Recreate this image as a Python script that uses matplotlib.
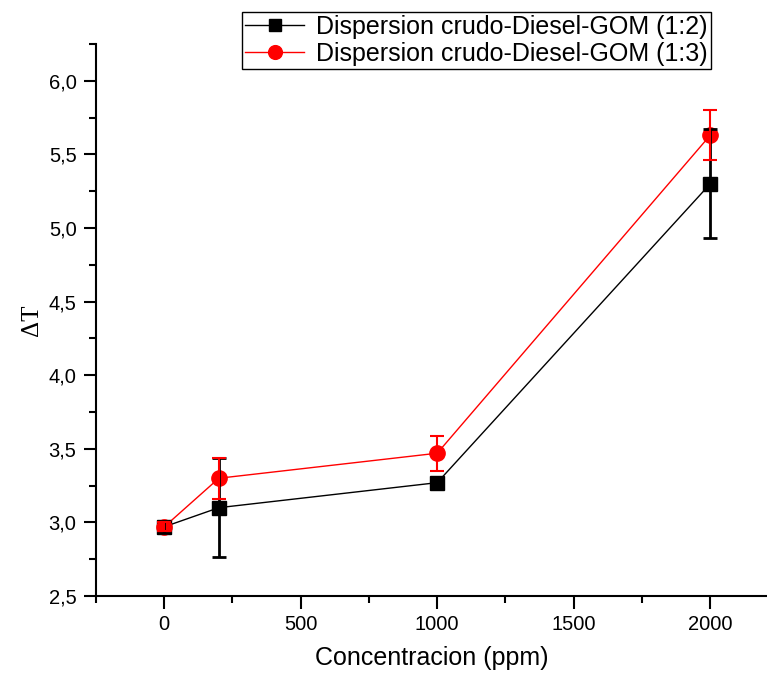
import matplotlib
matplotlib.use("Agg")
import matplotlib.pyplot as plt
from matplotlib.ticker import MultipleLocator, FuncFormatter

conc = [0, 200, 1000, 2000]
dt_12 = [2.97, 3.10, 3.27, 5.30]
err_12 = [0.04, 0.335, 0.03, 0.37]
dt_13 = [2.97, 3.30, 3.47, 5.63]
err_13 = [0.03, 0.14, 0.12, 0.17]
label_12 = "Dispersion crudo-Diesel-GOM (1:2)"
label_13 = "Dispersion crudo-Diesel-GOM (1:3)"

plt.rcParams['font.family'] = ['Liberation Sans', 'DejaVu Sans']

fig = plt.figure(figsize=(7.67, 6.77), dpi=100)
ax = fig.add_axes([96/767, 81/677, 1 - 96/767, 552/677])

ax.plot(conc, dt_12, color='black', lw=1, marker='s', ms=10, mec='black', mfc='black',
        zorder=2, label=label_12)
ax.plot(conc, dt_13, color='red', lw=1, marker='o', ms=11, mec='red', mfc='red',
        zorder=3, label=label_13)
ax.errorbar(conc, dt_12, yerr=err_12, fmt='none', ecolor='black', elinewidth=2,
            capsize=5, capthick=2, zorder=4)
ax.errorbar(conc, dt_13, yerr=err_13, fmt='none', ecolor='red', elinewidth=1.5,
            capsize=5, capthick=1.5, zorder=5)

ax.set_xlim(-250, 2208)
ax.set_ylim(2.5, 6.25)
ax.xaxis.set_major_locator(MultipleLocator(500))
ax.xaxis.set_minor_locator(MultipleLocator(250))
ax.yaxis.set_major_locator(MultipleLocator(0.5))
ax.yaxis.set_minor_locator(MultipleLocator(0.25))
ax.yaxis.set_major_formatter(FuncFormatter(lambda v, p: f"{v:.1f}".replace('.', ',')))

for s in ['top', 'right']:
    ax.spines[s].set_visible(False)
for s in ['left', 'bottom']:
    ax.spines[s].set_linewidth(1.5)
ax.tick_params(which='major', direction='out', length=9, width=1.5, labelsize=14.5, pad=5)
ax.tick_params(which='minor', direction='out', length=5, width=1.5)

ax.set_xlabel("Concentracion (ppm)", fontsize=18, labelpad=8)
ax.set_ylabel("ΔT", fontsize=18, family=['Liberation Serif', 'DejaVu Serif'], labelpad=4)

leg = ax.legend(loc='upper right', bbox_to_anchor=(711/767, 1 - 12/677),
                bbox_transform=fig.transFigure, borderaxespad=0, fontsize=18,
                frameon=True, fancybox=False, edgecolor='black', framealpha=1,
                handlelength=2.35, handletextpad=0.5, borderpad=0.12, labelspacing=0.1,
                markerscale=0.9)
leg.get_frame().set_linewidth(1.0)
leg.set_zorder(10)

fig.savefig("out.png", dpi=100)
